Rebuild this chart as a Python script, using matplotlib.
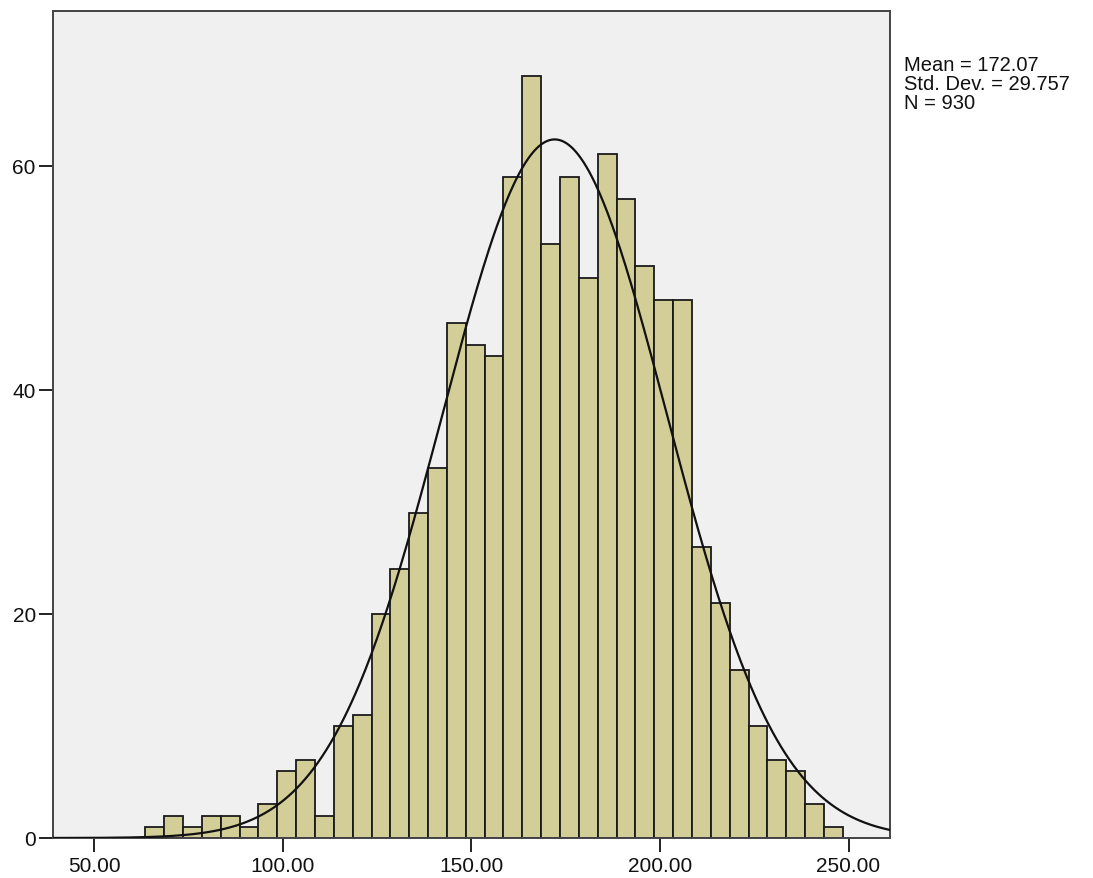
import numpy as np
import matplotlib
matplotlib.use("Agg")
import matplotlib.pyplot as plt

# Data
bin_start = 63.5
bin_width = 5.0
counts = [1, 2, 1, 2, 2, 1, 3, 6, 7, 2, 10, 11, 20, 24, 29, 33, 46, 44, 43,
          59, 68, 53, 59, 50, 61, 57, 51, 48, 48, 26, 21, 15, 10, 7, 6, 3, 1]
mean_val = 172.07
std_val = 29.757
n_val = 930
x_ticks = [50, 100, 150, 200, 250]
x_tick_labels = ["50.00", "100.00", "150.00", "200.00", "250.00"]
y_ticks = [0, 20, 40, 60]

plt.rcParams['font.family'] = ['Liberation Sans', 'DejaVu Sans']

fig = plt.figure(figsize=(10.93, 8.79), dpi=100)
fig.patch.set_facecolor('white')
ax = fig.add_axes([52.5 / 1093, 40 / 879, (890 - 52.5) / 1093, (839 - 12) / 879])
ax.set_facecolor('#F0F0F0')

edges = bin_start + bin_width * np.arange(len(counts) + 1)
ax.bar(edges[:-1], counts, width=bin_width, align='edge',
       color='#D3CE97', edgecolor='#1a1a1a', linewidth=1.3, zorder=2)

xs = np.linspace(38.9, 261, 600)
pdf = n_val * bin_width / (std_val * np.sqrt(2 * np.pi)) * np.exp(-0.5 * ((xs - mean_val) / std_val) ** 2)
ax.plot(xs, pdf, color='#111111', linewidth=1.6, zorder=3)

ax.set_xlim(38.9, 261)
ax.set_ylim(0, 73.8)
ax.set_xticks(x_ticks)
ax.set_xticklabels(x_tick_labels)
ax.set_yticks(y_ticks)
ax.tick_params(axis='both', direction='out', length=10, width=1.4, colors='#222222',
               labelsize=15, labelcolor='#111111')
ax.tick_params(axis='x', pad=3)
ax.tick_params(axis='y', pad=2)
for s in ax.spines.values():
    s.set_color('#444444')
    s.set_linewidth(1.4)

fig.text(904 / 1093, 1 - 56 / 879,
         f"Mean = {mean_val:.2f}\nStd. Dev. = {std_val:.3f}\nN = {n_val}",
         ha='left', va='top', fontsize=14.5, color='#111111', linespacing=1.0)

fig.savefig('out.png', dpi=100, facecolor='white')
